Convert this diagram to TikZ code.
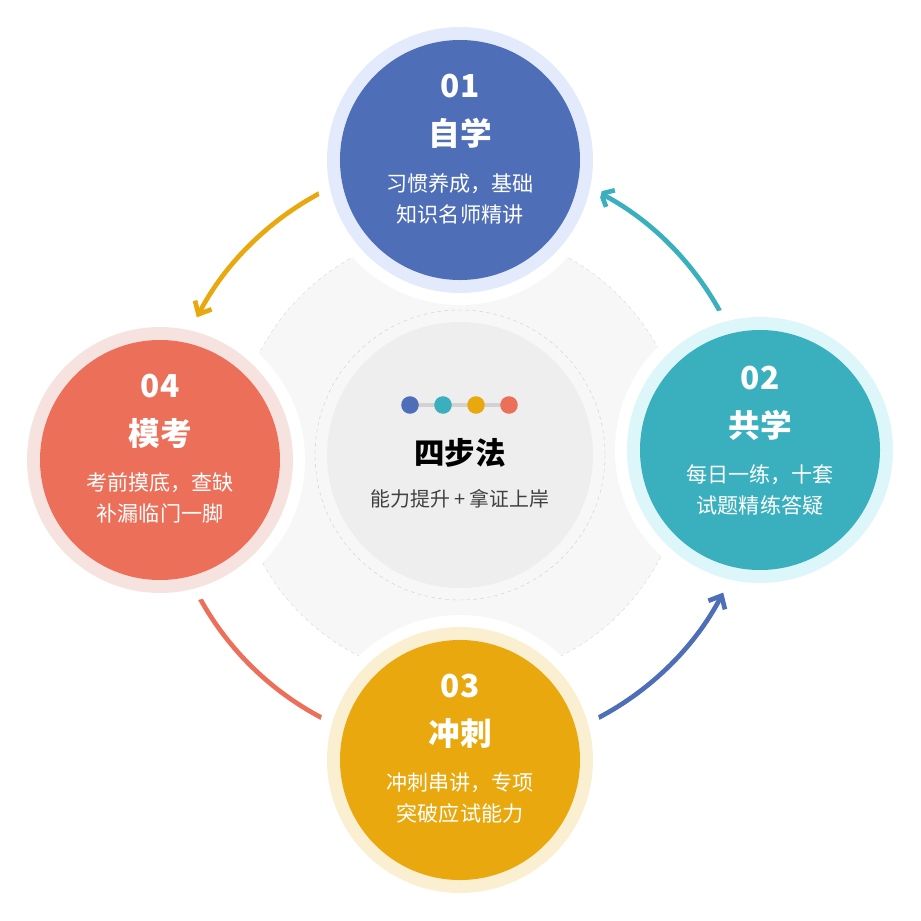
\documentclass[tikz,border=0pt]{standalone}
\usepackage{fontspec}
\setmainfont{Noto Sans CJK SC}
\usetikzlibrary{arrows.meta}
\definecolor{cblue}{HTML}{4F6EB8}
\definecolor{cteal}{HTML}{3AB0BE}
\definecolor{cyell}{HTML}{E8A80E}
\definecolor{cred}{HTML}{EC6F5A}
\definecolor{rblue}{HTML}{E3EAFB}
\definecolor{rteal}{HTML}{DDF6F9}
\definecolor{ryell}{HTML}{FBEFD2}
\definecolor{rred}{HTML}{F6E3E0}
\begin{document}
\begin{tikzpicture}[x=0.03cm,y=-0.03cm,
every node/.style={align=center,text=white},
num/.style={font=\fontsize{27}{30}\selectfont\bfseries},
ttl/.style={font=\fontsize{27}{30}\selectfont\bfseries},
txt/.style={font=\fontsize{18}{27}\selectfont},
flow/.style={line width=4pt,-{Straight Barb[length=9pt,width=16pt]}},
dot/.style={circle,fill,minimum size=15pt,inner sep=0pt}]
\useasboundingbox (0,0) rectangle (921,921);
%background disks
\fill[gray!6] (460,455) circle (225);
\draw[gray!30,dashed] (460,455) circle (225);
\fill[gray!13] (460,455) circle (133);
\draw[gray!35,dashed] (460,455) circle (145);
%arcs
\draw[flow,cblue] (460,455) ++(62.3:297) arc (62.3:27.6:297);
\draw[flow,cteal] (460,455) ++(-27.7:297) arc (-27.7:-62.3:297);
\draw[flow,cyell] (460,455) ++(-117.7:297) arc (-117.7:-152.4:297);
\draw[line width=4pt,cred] (460,455) ++(152.3:297) arc (152.3:117.7:297);
%stage circles
\foreach \cx/\cy/\c/\r in {460/160/cblue/rblue,760/450/cteal/rteal,460/760/cyell/ryell,160/460/cred/rred}{
\fill[white] (\cx,\cy) circle (145);
\fill[\r] (\cx,\cy) circle (133);
\fill[\c] (\cx,\cy) circle (120);
}
%top
\node[num] (n1) at (460,86) {01};
\node[ttl] (t1) at (460,133) {自学};
\node[txt] (d1) at (460,199) {习惯养成，基础\\知识名师精讲};
%right
\node[num] (n2) at (760,378) {02};
\node[ttl] (t2) at (760,425) {共学};
\node[txt] (d2) at (760,490) {每日一练，十套\\试题精练答疑};
%bottom
\node[num] (n3) at (460,686) {03};
\node[ttl] (t3) at (460,733) {冲刺};
\node[txt] (d3) at (460,798) {冲刺串讲，专项\\突破应试能力};
%left
\node[num] (n4) at (160,386) {04};
\node[ttl] (t4) at (160,433) {模考};
\node[txt] (d4) at (160,498) {考前摸底，查缺\\补漏临门一脚};
%center
\draw[gray!35,line width=4pt] (410,405) -- (509,405);
\node[dot,fill=cblue] (p1) at (410,405) {};
\node[dot,fill=cteal] (p2) at (443,405) {};
\node[dot,fill=cyell] (p3) at (476,405) {};
\node[dot,fill=cred] (p4) at (509,405) {};
\node[text=black,font=\fontsize{26}{30}\selectfont\bfseries] (c1) at (460,453) {四步法};
\node[text=black!75,font=\fontsize{17}{20}\selectfont] (c2) at (460,499) {能力提升 + 拿证上岸};
\end{tikzpicture}
\end{document}
